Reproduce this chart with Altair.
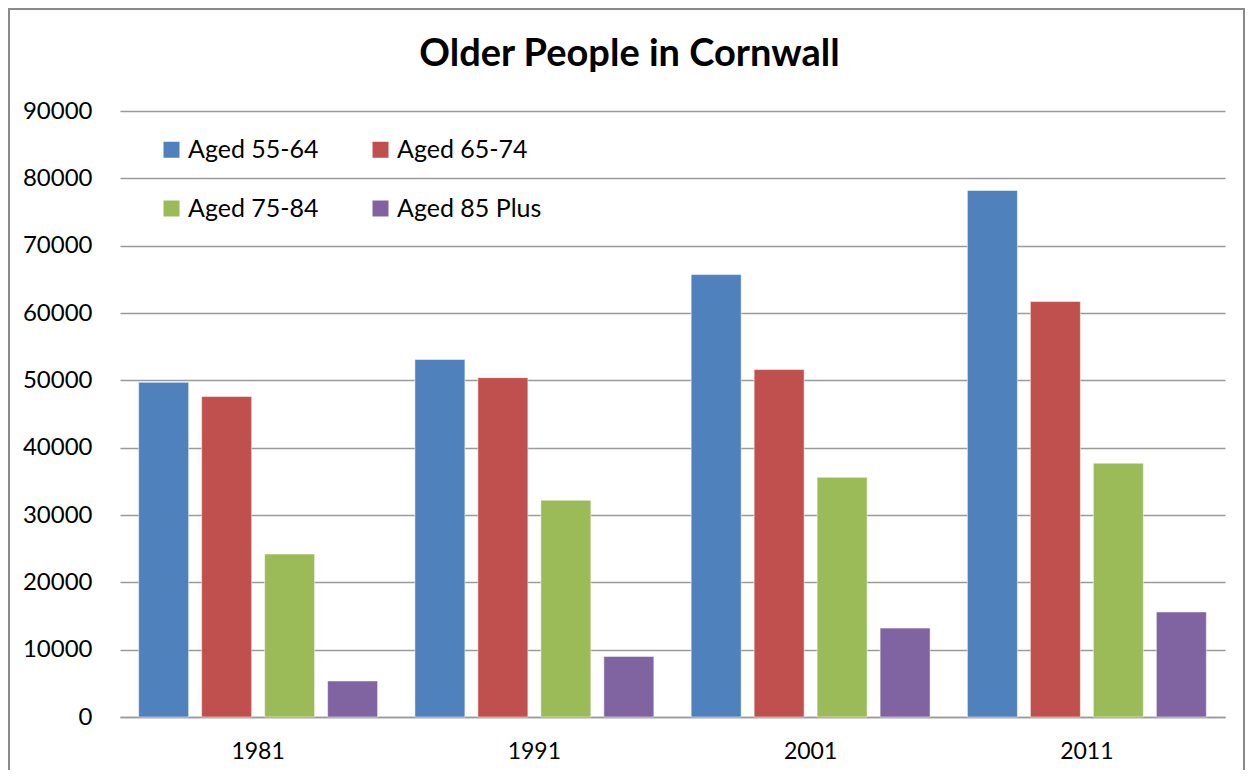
import altair as alt
import pandas as pd

years = ["1981", "1991", "2001", "2011"]
groups = ["Aged 55-64", "Aged 65-74", "Aged 75-84", "Aged 85 Plus"]
aged_55_64 = [49700, 53100, 65700, 78200]
aged_65_74 = [47600, 50400, 51600, 61700]
aged_75_84 = [24200, 32200, 35600, 37700]
aged_85_plus = [5350, 9000, 13200, 15600]
colors = ["#4F81BD", "#C0504D", "#9BBB59", "#8064A2"]
y_ticks = list(range(0, 90001, 10000))

rows = []
for g, vals in zip(groups, [aged_55_64, aged_65_74, aged_75_84, aged_85_plus]):
    for yr, v in zip(years, vals):
        rows.append({"Year": yr, "Group": g, "People": v})
df = pd.DataFrame(rows)

W, H = 1105, 606
PL, PT, PR, PB = 112, 103, 20, 53
FONT = "Lato"

bars = alt.Chart(df).mark_bar(stroke="white", strokeOpacity=0.5, strokeWidth=1).encode(
    x=alt.X("Year:N", sort=years,
            scale=alt.Scale(paddingInner=0.135, paddingOuter=0.0675),
            axis=alt.Axis(title=None, labelAngle=0, labelFontSize=23, labelPadding=23,
                          ticks=False, domainColor="#9a9a9a", domainWidth=1.5, grid=False,
                          labelColor="#000000", labelFont=FONT)),
    xOffset=alt.XOffset("Group:N", sort=groups,
                        scale=alt.Scale(paddingInner=0.206, paddingOuter=0)),
    y=alt.Y("People:Q", scale=alt.Scale(domain=[0, 90000], nice=False),
            axis=alt.Axis(title=None, values=y_ticks, format="d", domain=False, ticks=False,
                          grid=True, gridColor="#9a9a9a", gridWidth=1.5,
                          labelFontSize=24, labelPadding=28, labelColor="#000000",
                          labelFont=FONT)),
    color=alt.Color("Group:N", sort=groups,
                    scale=alt.Scale(domain=groups, range=colors),
                    legend=alt.Legend(title=None, orient="none", legendX=39, legendY=26,
                                      direction="horizontal", columns=2,
                                      symbolType="square", symbolSize=256,
                                      symbolStrokeWidth=0, labelFontSize=25, labelFont=FONT,
                                      labelColor="#000000", labelOffset=4, rowPadding=33,
                                      columnPadding=49, padding=0)),
)

one = pd.DataFrame({"a": [0]})
border_color = "#8a8a8a"
left = alt.Chart(one).mark_rule(color=border_color, strokeWidth=2).encode(
    x=alt.value(-PL + 1), y=alt.value(-PT), y2=alt.value(H + PB))
top = alt.Chart(one).mark_rule(color=border_color, strokeWidth=2).encode(
    x=alt.value(-PL), x2=alt.value(W + PR), y=alt.value(-PT + 1))
right = alt.Chart(one).mark_rule(color=border_color, strokeWidth=2).encode(
    x=alt.value(W + PR - 1), y=alt.value(-PT), y2=alt.value(H + PB))

chart = alt.layer(bars, left, top, right).properties(
    width=W, height=H,
    padding={"left": PL, "top": PT, "right": PR, "bottom": PB},
    autosize=alt.AutoSizeParams(type="none"),
    title=alt.TitleParams("Older People in Cornwall", font=FONT, fontSize=38,
                          fontWeight="bold", color="#000000", anchor="middle",
                          baseline="alphabetic", dx=-43, offset=-97),
).configure_view(stroke=None)

chart.save("out.html", embed_options={"renderer": "svg", "actions": False})
